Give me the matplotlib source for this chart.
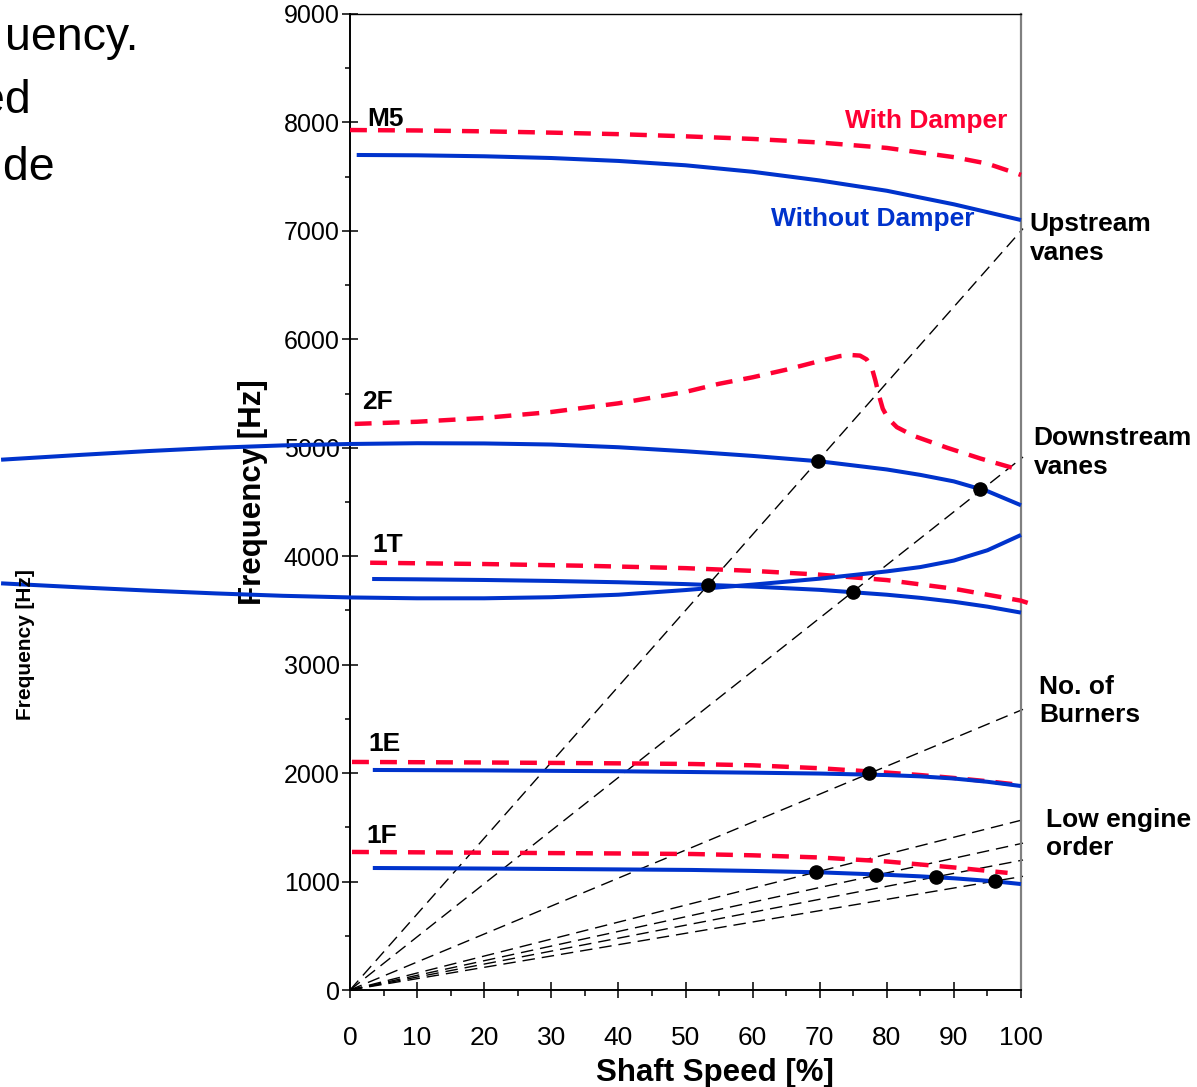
import numpy as np
import matplotlib
matplotlib.use("Agg")
import matplotlib.pyplot as plt
from matplotlib.ticker import MultipleLocator

plt.rcParams['font.family'] = ['Liberation Sans', 'DejaVu Sans']

RED = '#FF0033'
BLUE = '#0033CC'

# --- mode curves, with damper (red dashed) ---
m5_red_x = [0, 10, 20, 30, 40, 50, 60, 70, 80, 90, 95, 100]
m5_red_y = [7930, 7926, 7918, 7906, 7892, 7872, 7848, 7815, 7765, 7680, 7620, 7516]

f2_red_x = [0.7, 10, 20, 30, 40, 50, 55, 60, 65, 70, 73, 74.5, 76, 77, 77.8, 78.3,
            78.8, 79.4, 80.2, 81.5, 84, 89, 94, 98.8]
f2_red_y = [5220, 5240, 5275, 5330, 5410, 5515, 5590, 5650, 5720, 5800, 5845, 5856,
            5850, 5815, 5730, 5620, 5490, 5360, 5270, 5190, 5110, 5000, 4900, 4814]

t1_red_x = [3, 20, 35, 50, 60, 70, 80, 90, 100, 101]
t1_red_y = [3940, 3928, 3912, 3890, 3865, 3830, 3780, 3700, 3590, 3570]

e1_red_x = [0.3, 20, 40, 51, 60, 70, 80, 85, 90, 95, 100]
e1_red_y = [2103, 2098, 2090, 2084, 2072, 2045, 2005, 1982, 1955, 1925, 1890]

f1_red_x = [0.3, 20, 40, 51, 60, 70, 80, 90, 98]
f1_red_y = [1273, 1266, 1259, 1254, 1242, 1222, 1185, 1130, 1080]

# --- mode curves, without damper (blue solid) ---
m5_blue_x = [1, 10, 20, 30, 40, 50, 60, 70, 80, 90, 100]
m5_blue_y = [7700, 7697, 7688, 7672, 7645, 7605, 7545, 7465, 7370, 7245, 7100]

f2_blue_x = [-52, -40, -30, -20, -10, 0, 10, 20, 30, 40, 50, 60, 70, 80, 85, 90, 95, 100]
f2_blue_y = [4890, 4935, 4970, 5000, 5022, 5035, 5042, 5040, 5030, 5005, 4968, 4925,
             4875, 4800, 4750, 4690, 4600, 4470]

t1a_blue_x = [-52, -40, -30, -20, -10, 0, 10, 20, 30, 40, 50, 60, 70, 80, 85, 90, 95, 100]
t1a_blue_y = [3750, 3712, 3683, 3657, 3635, 3620, 3612, 3612, 3622, 3645, 3688, 3738,
              3793, 3860, 3900, 3960, 4055, 4196]

t1b_blue_x = [3.3, 10, 20, 30, 40, 50, 60, 70, 80, 85, 90, 95, 100]
t1b_blue_y = [3790, 3787, 3781, 3772, 3760, 3743, 3720, 3690, 3645, 3616, 3580, 3535, 3480]

e1_blue_x = [3.4, 20, 40, 51, 60, 70, 80, 85, 90, 95, 100]
e1_blue_y = [2029, 2025, 2017, 2010, 2004, 1996, 1982, 1970, 1950, 1920, 1881]

f1_blue_x = [3.4, 20, 40, 51, 60, 70, 80, 85, 90, 96.1, 100]
f1_blue_y = [1125, 1120, 1112, 1107, 1098, 1085, 1062, 1048, 1030, 1002, 977]

# --- engine order lines: frequency reached at 100 % speed ---
eo_end = [7000, 4900, 2580, 1565, 1350, 1195, 1045]

# --- crossing points ---
dot_x = [69.7, 93.9, 53.4, 75.0, 77.3, 69.4, 78.4, 87.3, 96.1]
dot_y = [4878, 4620, 3735, 3668, 2000, 1088, 1060, 1042, 1005]

fig = plt.figure(figsize=(11.97, 10.87), dpi=100)
ax = fig.add_axes([350/1197, 1 - 990/1087, 671/1197, 976/1087])

# engine order lines
for f in eo_end:
    ax.plot([0, 100.3], [0, f * 1.003], color='black', lw=1.0,
            linestyle=(0, (9, 5)), clip_on=False, zorder=2)

red_kw = dict(color=RED, lw=3.2, dashes=(3.8, 2.5), zorder=3, clip_on=False)
for xs, ys in [(m5_red_x, m5_red_y), (f2_red_x, f2_red_y), (t1_red_x, t1_red_y),
               (e1_red_x, e1_red_y), (f1_red_x, f1_red_y)]:
    ax.plot(xs, ys, **red_kw)

blue_kw = dict(color=BLUE, lw=2.9, zorder=4, clip_on=False, solid_capstyle='butt',
               solid_joinstyle='round')
for xs, ys in [(m5_blue_x, m5_blue_y), (f2_blue_x, f2_blue_y), (t1a_blue_x, t1a_blue_y),
               (t1b_blue_x, t1b_blue_y), (e1_blue_x, e1_blue_y), (f1_blue_x, f1_blue_y)]:
    ax.plot(xs, ys, **blue_kw)

ax.plot(dot_x, dot_y, 'o', color='black', ms=9.5, zorder=5)

ax.set_xlim(0, 100)
ax.set_ylim(0, 9000)
ax.xaxis.set_major_locator(MultipleLocator(10))
ax.xaxis.set_minor_locator(MultipleLocator(5))
ax.yaxis.set_major_locator(MultipleLocator(1000))
ax.yaxis.set_minor_locator(MultipleLocator(500))
ax.tick_params(axis='x', which='major', direction='inout', length=11.5, width=1.1,
               labelsize=19, pad=20)
ax.tick_params(axis='x', which='minor', direction='out', length=4.3, width=1.1)
ax.tick_params(axis='y', which='major', direction='inout', length=11, width=1.1,
               labelsize=18, pad=2)
ax.tick_params(axis='y', which='minor', direction='out', length=3.6, width=1.1)

for s in ['left', 'bottom']:
    ax.spines[s].set_linewidth(1.4)
ax.spines['top'].set_linewidth(1.0)
ax.spines['right'].set_color('#808080')
ax.spines['right'].set_linewidth(1.6)

ax.set_xlabel('Shaft Speed [%]', fontsize=22.5, fontweight='bold')
ax.xaxis.set_label_coords(0.544, -0.070)
ax.set_ylabel('Frequency [Hz]', fontsize=22.5, fontweight='bold')
ax.yaxis.set_label_coords(-0.122, 0.51)

lab = dict(fontsize=19, fontweight='bold', clip_on=False)
ax.text(2.5, 7967, 'M5', va='baseline', **lab)
ax.text(73.8, 8013, 'With Damper', color=RED, va='center', **lab)
ax.text(62.7, 7110, 'Without Damper', color=BLUE, va='center', **lab)
ax.text(1.8, 5422, '2F', va='center', **lab)
ax.text(3.3, 4104, '1T', va='center', **lab)
ax.text(2.7, 2268, '1E', va='center', **lab)
ax.text(2.4, 1420, '1F', va='center', **lab)
ax.text(101.3, 6930, 'Upstream\nvanes', va='center', linespacing=1.25, **lab)
ax.text(101.9, 4957, 'Downstream\nvanes', va='center', linespacing=1.25, **lab)
ax.text(102.7, 2665, 'No. of\nBurners', va='center', linespacing=1.25, **lab)
ax.text(103.7, 1439, 'Low engine\norder', va='center', linespacing=1.25, **lab)

# pieces of the slide behind the chart
fig.text(138/1197, 1 - 50/1087, 'uency.', fontsize=33.5, ha='right', va='baseline')
fig.text(31/1197, 1 - 113/1087, 'ed', fontsize=33.5, ha='right', va='baseline')
fig.text(55/1197, 1 - 180/1087, 'ude', fontsize=33.5, ha='right', va='baseline')
fig.text(26/1197, 1 - 645/1087, 'Frequency [Hz]', fontsize=15, fontweight='bold',
         rotation=90, ha='center', va='center')

fig.savefig('out.png', dpi=100)
